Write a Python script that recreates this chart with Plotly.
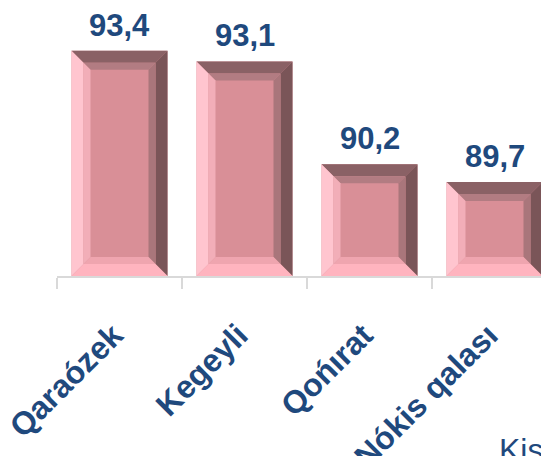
import plotly.graph_objects as go

categories = ["Qaraózek", "Kegeyli", "Qońırat", "Nókis qalası"]
values = [93.4, 93.1, 90.2, 89.7]
labels = ["93,4", "93,1", "90,2", "89,7"]

Y_MIN, Y_MAX = 87.05, 94.55
BAR_W = 0.768
PX_X = 125.0   # pixels per category unit
PX_Y = 266.0 / (Y_MAX - Y_MIN)

BLUE = "#1F497D"
FACE = "#D98F97"

fig = go.Figure()
fig.add_trace(go.Bar(
    x=categories, y=values, width=BAR_W,
    marker=dict(color=FACE, line=dict(width=0)),
    hoverinfo="skip", showlegend=False,
))

def ring(xc, v, b0, inset_px, depth_px, cols):
    sx, sy = inset_px / PX_X, inset_px / PX_Y
    dx, dy = depth_px / PX_X, depth_px / PX_Y
    x0 = xc - BAR_W / 2 + sx
    x1 = xc + BAR_W / 2 - sx
    y0 = b0 + sy
    y1 = v - sy
    polys = {
        "top": [(x0, y1), (x1, y1), (x1 - dx, y1 - dy), (x0 + dx, y1 - dy)],
        "right": [(x1, y1), (x1, y0), (x1 - dx, y0 + dy), (x1 - dx, y1 - dy)],
        "bottom": [(x0, y0), (x1, y0), (x1 - dx, y0 + dy), (x0 + dx, y0 + dy)],
        "left": [(x0, y0), (x0, y1), (x0 + dx, y1 - dy), (x0 + dx, y0 + dy)],
    }
    for k, pts in polys.items():
        path = "M " + " L ".join(f"{a},{b}" for a, b in pts) + " Z"
        fig.add_shape(type="path", path=path, xref="x", yref="y",
                      fillcolor=cols[k], line=dict(width=0), layer="above")

outer = {"top": "#8A6165", "right": "#7A5558", "bottom": "#FFB4BF", "left": "#FFC5CF"}
inner = {"top": "#B27C82", "right": "#A9767B", "bottom": "#EFA5AF", "left": "#F2AEB8"}

for i, v in enumerate(values):
    ring(i, v, Y_MIN, 0, 12, outer)
    ring(i, v, Y_MIN, 12, 7, inner)
    fig.add_annotation(x=categories[i], y=v, text=labels[i], showarrow=False,
                       yanchor="bottom", yshift=6,
                       font=dict(family="Liberation Sans", size=31, color=BLUE, weight="bold"))

fig.add_annotation(xref="paper", yref="paper", x=0.88, y=-0.58, xanchor="left", yanchor="top",
                   text="Kis", showarrow=False,
                   font=dict(family="Liberation Sans", size=32, color=BLUE))

fig.update_layout(
    width=549, height=456,
    margin=dict(l=49, r=0, t=2, b=188, autoexpand=False),
    paper_bgcolor="white", plot_bgcolor="white",
    bargap=0.23,
    xaxis=dict(
        type="category", range=[-0.5, 3.5], automargin=False,
        showline=True, linecolor="#D9D9D9", linewidth=1.5,
        ticks="outside", tickson="boundaries", ticklen=11, tickcolor="#D9D9D9", tickwidth=1.5,
        tickangle=-45, ticklabelstandoff=26, ticklabelshift=-6,
        tickfont=dict(family="Liberation Sans", size=32, color=BLUE, weight="bold"),
        showgrid=False, zeroline=False,
    ),
    yaxis=dict(range=[Y_MIN, Y_MAX], visible=False, showgrid=False, automargin=False),
)

fig.write_html("out.html")
